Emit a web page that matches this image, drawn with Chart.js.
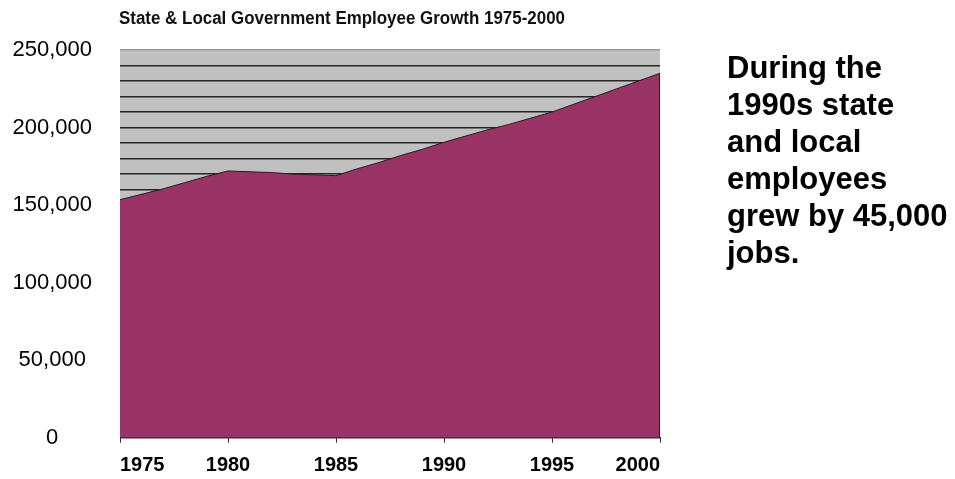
<!DOCTYPE html>
<html><head><meta charset="utf-8">
<script src="https://cdn.jsdelivr.net/npm/chart.js@4/dist/chart.umd.min.js"></script>
<style>
html,body{margin:0;padding:0;background:#fff;width:955px;height:479px;overflow:hidden}
#wrap{position:absolute;left:0;top:0;width:955px;height:479px}
#title{position:absolute;left:119px;top:7px;font:bold 18px/22px 'Liberation Sans',Arial,sans-serif;color:#111;white-space:nowrap;transform-origin:0 0}
#note{position:absolute;left:727px;top:49px;font:bold 31px/37px 'Liberation Sans',Arial,sans-serif;color:#000;white-space:nowrap}
</style></head><body>
<div id="wrap"><canvas id="c" width="955" height="479"></canvas></div>
<div id="title">State &amp; Local Government Employee Growth 1975-2000</div>
<div id="note">During the<br>1990s state<br>and local<br>employees<br>grew by 45,000<br>jobs.</div>
<script>
const years = [1975,1976,1977,1978,1979,1980,1981,1982,1983,1984,1985,1986,1987,1988,1989,1990,1991,1992,1993,1994,1995,1996,1997,1998,1999,2000];
const employees = [153500,157000,160500,164500,168500,172000,171500,171000,170000,169500,169000,173500,177500,182000,186000,190500,194500,198500,202000,206000,210000,215000,220000,225000,230000,235000];
const xTickYears = [1975,1980,1985,1990,1995,2000];
const yLabelValues = [0,50000,100000,150000,200000,250000];
const yGridStep = 10000;

// narrow the title like Arial Narrow
(function(){
  const t = document.getElementById('title');
  const w = t.getBoundingClientRect().width;
  t.style.transform = 'scaleX(' + (446 / w) + ')';
})();

const plotBg = {
  id:'plotBg',
  beforeDraw(chart){
    const {ctx, chartArea:a} = chart;
    ctx.save(); ctx.fillStyle = '#c0c0c0'; ctx.fillRect(a.left, a.top, a.width, a.height); ctx.restore();
  }
};
const areaEdge = {
  id:'areaEdge',
  afterDatasetsDraw(chart){
    const pts = chart.getDatasetMeta(0).data;
    const last = pts[pts.length-1];
    const {ctx, chartArea:a} = chart;
    ctx.save(); ctx.strokeStyle = '#2a1a22'; ctx.lineWidth = 1;
    ctx.beginPath(); ctx.moveTo(Math.round(last.x)-0.5, last.y); ctx.lineTo(Math.round(last.x)-0.5, a.bottom); ctx.stroke();
    ctx.restore();
  }
};

new Chart(document.getElementById('c'), {
  type:'line',
  data:{datasets:[{
    data: years.map((y,i)=>({x:y, y:employees[i]})),
    fill:'origin', backgroundColor:'#993366', borderColor:'#2a1a22', borderWidth:1,
    pointRadius:0, tension:0
  }]},
  options:{
    responsive:false, animation:false,
    layout:{padding:{left:0, top:50, right:295, bottom:0}},
    plugins:{legend:{display:false}, tooltip:{enabled:false}, title:{display:false}},
    scales:{
      x:{
        type:'linear', min:1975, max:2000,
        afterBuildTicks(s){ s.ticks = xTickYears.map(v=>({value:v})); },
        ticks:{align:'inner', autoSkip:false, maxRotation:0, padding:11, color:'#000',
          font:{family:"'Liberation Sans',Arial,sans-serif", size:20, weight:'bold'},
          callback:v=>String(v)},
        grid:{drawOnChartArea:false, drawTicks:true, tickLength:5, color:'#333'},
        border:{display:true, color:'#2a1a22', width:1},
        afterFit(s){ s.height = 39; }
      },
      y:{
        min:0, max:250000,
        ticks:{stepSize:yGridStep, autoSkip:false, crossAlign:'center', padding:28, color:'#000',
          font:{family:"'Liberation Sans',Arial,sans-serif", size:22},
          callback:v=> yLabelValues.includes(v) ? v.toLocaleString('en-US') : ''},
        grid:{drawTicks:false, lineWidth:1.5, color:c=> (c.tick && c.tick.value===250000) ? '#999' : '#262626'},
        border:{display:false},
        afterFit(s){ s.width = 120; }
      }
    }
  },
  plugins:[plotBg, areaEdge]
});
</script>
</body></html>
